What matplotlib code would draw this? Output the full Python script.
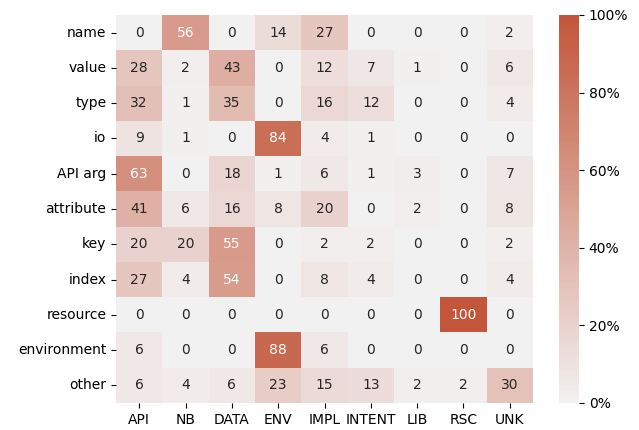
import matplotlib
matplotlib.use("Agg")
import matplotlib.pyplot as plt
import numpy as np
import seaborn as sns
from matplotlib.ticker import PercentFormatter

rows = ["name", "value", "type", "io", "API arg", "attribute", "key",
        "index", "resource", "environment", "other"]
cols = ["API", "NB", "DATA", "ENV", "IMPL", "INTENT", "LIB", "RSC", "UNK"]

name = [0, 56, 0, 14, 27, 0, 0, 0, 2]
value = [28, 2, 43, 0, 12, 7, 1, 0, 6]
type_ = [32, 1, 35, 0, 16, 12, 0, 0, 4]
io = [9, 1, 0, 84, 4, 1, 0, 0, 0]
api_arg = [63, 0, 18, 1, 6, 1, 3, 0, 7]
attribute = [41, 6, 16, 8, 20, 0, 2, 0, 8]
key = [20, 20, 55, 0, 2, 2, 0, 0, 2]
index = [27, 4, 54, 0, 8, 4, 0, 0, 4]
resource = [0, 0, 0, 0, 0, 0, 0, 100, 0]
environment = [6, 0, 0, 88, 6, 0, 0, 0, 0]
other = [6, 4, 6, 23, 15, 13, 2, 2, 30]

data = np.array([name, value, type_, io, api_arg, attribute, key,
                 index, resource, environment, other])

fig = plt.figure(figsize=(6.39, 4.30), dpi=100)
ax = fig.add_axes([116 / 639, 27 / 430, 417 / 639, 388 / 430])
cax = fig.add_axes([559 / 639, 27 / 430, 20 / 639, 388 / 430])

cmap = sns.diverging_palette(220, 20, as_cmap=True)
sns.heatmap(data, ax=ax, cbar_ax=cax, cmap=cmap, center=0, vmin=0, vmax=100,
            annot=True, fmt="d", xticklabels=cols, yticklabels=rows,
            annot_kws={"fontsize": 10})
ax.tick_params(labelsize=10)
ax.set_yticklabels(rows, rotation=0)
cax.yaxis.set_major_formatter(PercentFormatter(100, decimals=0))
cax.tick_params(labelsize=10)
cax.set_yticks([0, 20, 40, 60, 80, 100])
for s in cax.spines.values():
    s.set_visible(False)

fig.savefig("out.png", dpi=100)
